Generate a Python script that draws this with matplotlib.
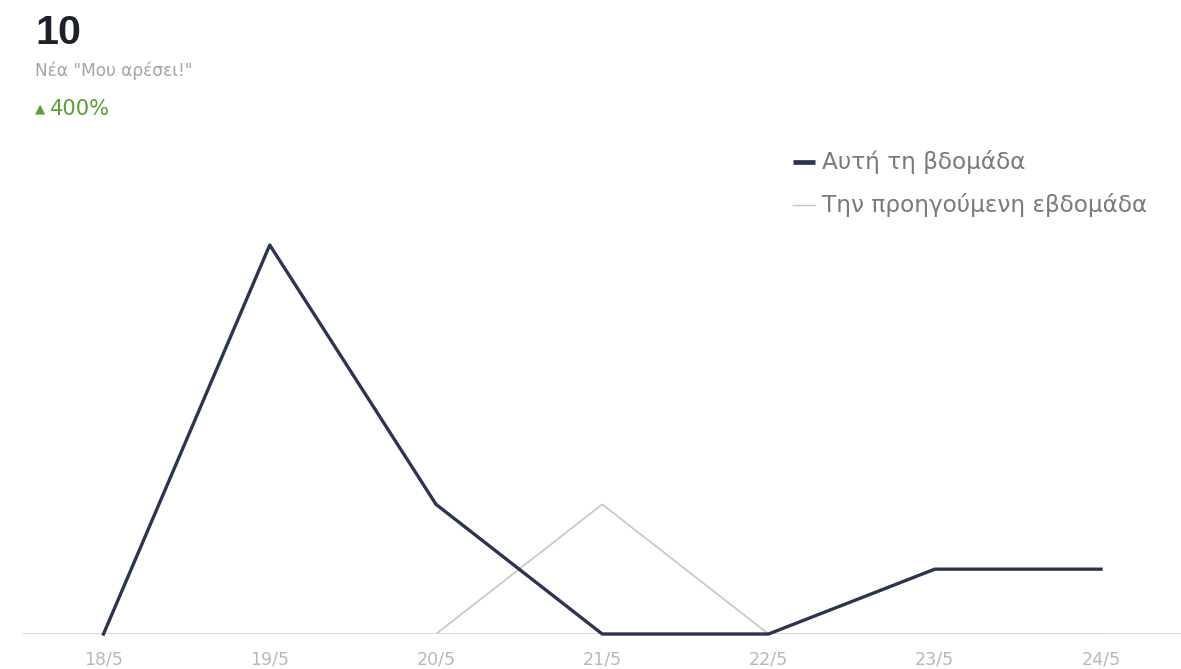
import matplotlib
matplotlib.use("Agg")
import matplotlib.pyplot as plt
from matplotlib.lines import Line2D

plt.rcParams['font.family'] = ['DejaVu Sans']

dates = ["18/5", "19/5", "20/5", "21/5", "22/5", "23/5", "24/5"]
this_week = [0, 6, 2, 0, 0, 1, 1]
prev_week = [0, 0, 0, 2, 0, 0, 0]
total = "10"
subtitle = 'Νέα "Μου αρέσει!"'
change = "400%"
legend_labels = ["Αυτή τη βδομάδα", "Την προηγούμενη εβδομάδα"]

W, H = 1181, 669
fig = plt.figure(figsize=(W / 100, H / 100), dpi=100)
fig.patch.set_facecolor("white")
renderer = fig.canvas.get_renderer()


def fit_text(x_px, y_px, s, width_px, **kw):
    t = fig.text(x_px / W, 1 - y_px / H, s, fontsize=10, ha="left", va="center", **kw)
    w = t.get_window_extent(renderer).width
    t.set_fontsize(10 * width_px / w)
    return t


# axes: baseline at y=634px, spans x 22..1181px
ax_left, ax_right = 22, 1181
ax_bottom, ax_top = 634, 200
ax = fig.add_axes([ax_left / W, 1 - ax_bottom / H, (ax_right - ax_left) / W, (ax_bottom - ax_top) / H])
x = list(range(len(dates)))
x0_px, x6_px = 103.5, 1101
step = (x6_px - x0_px) / 6
ax.set_xlim((ax_left - x0_px) / step, (ax_right - x0_px) / step)
unit = (634 - 245) / 6
ax.set_ylim(0, (ax_bottom - ax_top) / unit)

ax.plot(x[2:], prev_week[2:], color="#c6c6c6", lw=1.2, zorder=2)
ax.axhline(0, color="#d5d5d5", lw=2.0, zorder=3)
ax.plot(x, this_week, color="#2b3550", lw=2.4, zorder=4, clip_on=False)

for s in ax.spines.values():
    s.set_visible(False)
ax.set_yticks([])
ax.set_xticks([])
ax.patch.set_alpha(0)

# tick labels fitted to the reference width
for i, d in enumerate(dates):
    t = fig.text((x0_px + i * step) / W, 1 - 659 / H, d, fontsize=10, ha="center", va="center", color="#b8b8b8")
    w = t.get_window_extent(renderer).width
    t.set_fontsize(10 * 39 / w)

# header texts
t = fig.text(35 / W, 1 - 33 / H, total, fontsize=10, fontweight="bold", color="#1d2129",
             va="center", ha="left", family="Liberation Sans")
t.set_fontsize(10 * 46 / t.get_window_extent(renderer).width)
fit_text(35, 71, subtitle, 158, color="#a0a4ab")
fig.text(35 / W, 1 - 109 / H, "▲", fontsize=9.5, color="#5a9e35", va="center", ha="left")
fit_text(50, 109, change, 60, color="#5a9e35")

# legend (both rows share one font size)
fig.add_artist(Line2D([793 / W, 815 / W], [1 - 162 / H, 1 - 162 / H], color="#2b3550", lw=3.4, solid_capstyle="butt"))
fig.add_artist(Line2D([793 / W, 815 / W], [1 - 205 / H, 1 - 205 / H], color="#c6c6c6", lw=1.0))
l2 = fit_text(822, 205, legend_labels[1], 325, color="#7a7a7a")
fig.text(822 / W, 1 - 162 / H, legend_labels[0], fontsize=l2.get_fontsize(), color="#7a7a7a",
         ha="left", va="center")

fig.savefig("out.png", dpi=100, facecolor="white")
